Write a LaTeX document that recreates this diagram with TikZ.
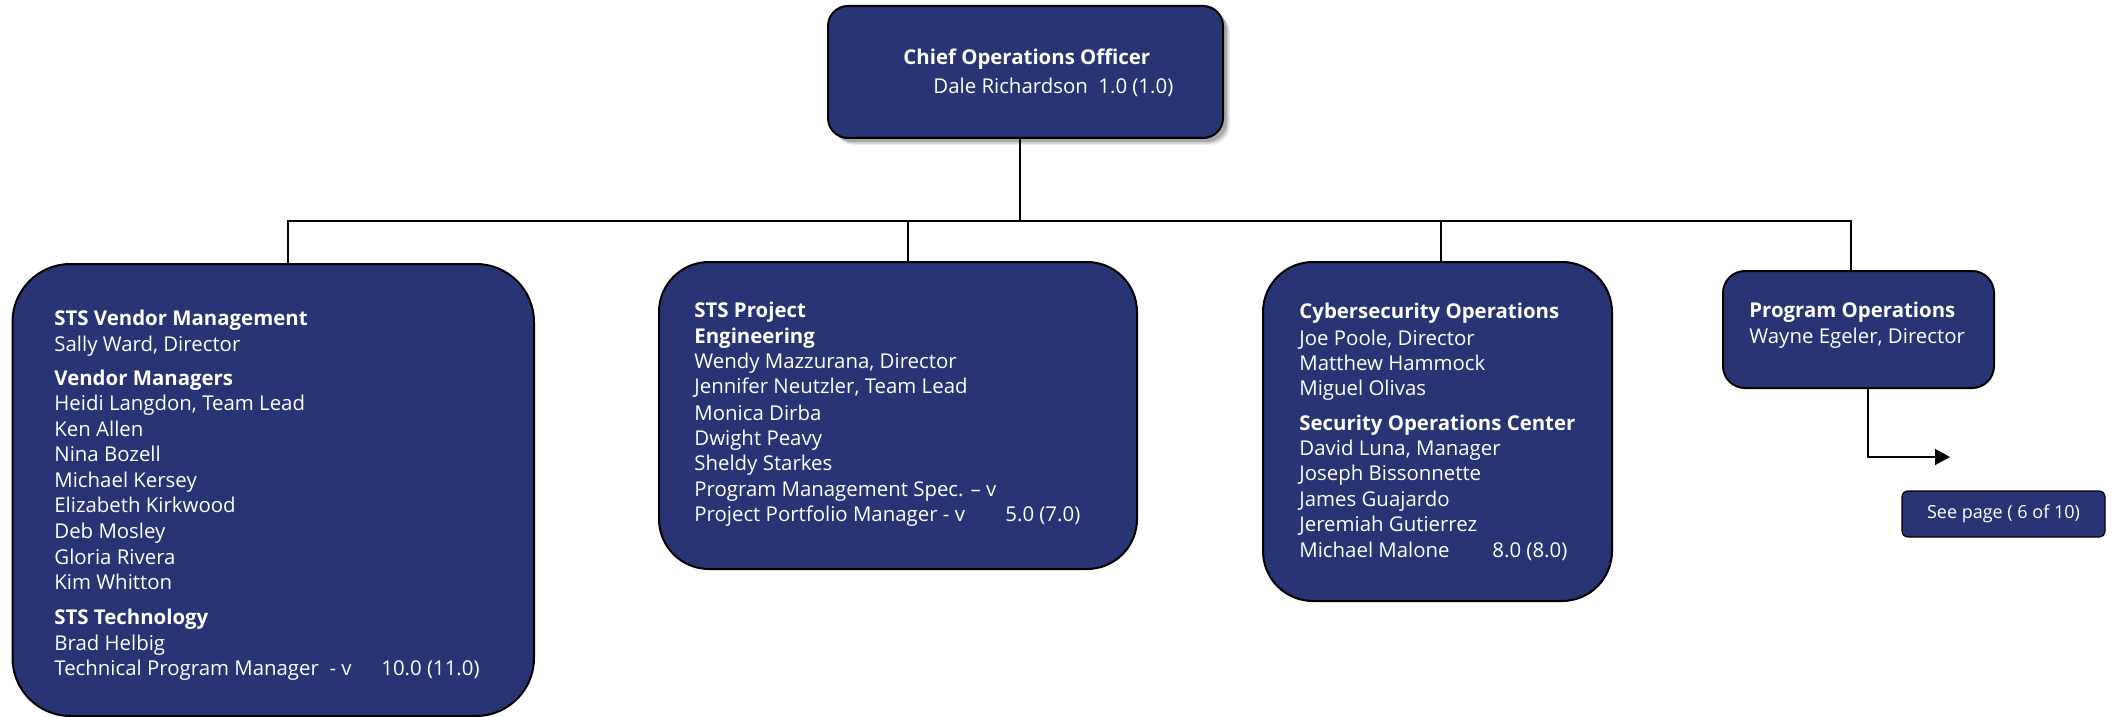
\documentclass[tikz,border=0pt]{standalone}
\usepackage{fontspec}
\setmainfont{Open Sans}
\usetikzlibrary{shadows,arrows.meta}
\definecolor{navy}{RGB}{40,52,116}
\tikzset{
  box/.style={draw=black, line width=1pt, fill=navy, inner sep=0pt},
  txt/.style={anchor=base west, inner sep=0pt, text=white, font=\fontsize{10.2}{12}\selectfont},
  btxt/.style={txt, font=\fontsize{10.2}{12}\selectfont\bfseries},
  conn/.style={draw=black, line width=0.75pt},
  softshadow/.style={
    drop shadow={shadow xshift=3.5pt, shadow yshift=-3.5pt, fill=black, opacity=0.08},
    drop shadow={shadow xshift=2.8pt, shadow yshift=-2.8pt, fill=black, opacity=0.12},
    drop shadow={shadow xshift=2pt, shadow yshift=-2pt, fill=black, opacity=0.18}},
}
\begin{document}
\begin{tikzpicture}[x=0.5pt,y=-0.5pt]
\useasboundingbox (0,0) rectangle (2121,717);
% boxes
\node[box, rounded corners=10pt, minimum width=197.5pt, minimum height=66pt, softshadow] (coo) at (1025.5,72) {};
\node[box, rounded corners=29pt, minimum width=260.75pt, minimum height=226pt] (vm) at (273.25,490) {};
\node[box, rounded corners=25pt, minimum width=239pt, minimum height=153.5pt] (pe) at (898,415.5) {};
\node[box, rounded corners=25pt, minimum width=174.5pt, minimum height=169.5pt] (cy) at (1437.5,431.5) {};
\node[box, rounded corners=11pt, minimum width=135.5pt, minimum height=58.5pt] (po) at (1858.5,329.5) {};
\node[box, rounded corners=3pt, line width=0.6pt, minimum width=101.5pt, minimum height=23pt,
      text=white, font=\fontsize{9}{10}\selectfont] (sp) at (2003.5,514) {See page ( 6 of 10)};
% connectors
\coordinate (jc) at (1020,221);
\coordinate (j1) at (288,221);
\coordinate (j2) at (908,221);
\coordinate (j3) at (1441,221);
\coordinate (j4) at (1851,221);
\coordinate (a1) at (1868,457);
\coordinate (a2) at (1950,457);
\draw[conn] (coo.south -| jc) -- (jc);
\draw[draw=black, line width=1.2pt] ([xshift=-0.6pt]j1) -- ([xshift=0.6pt]j4);
\draw[conn] (j1) -- (j1 |- vm.north);
\draw[conn] (j2) -- (j2 |- pe.north);
\draw[conn] (j3) -- (j3 |- cy.north);
\draw[conn] (j4) -- (j4 |- po.north);
\draw[conn, -{Triangle[length=7.5pt,width=8pt]}] (a1 |- po.south) -- (a1) -- (a2);
% texts: chief
\node[btxt] (coo1) at (903,65) {Chief Operations Officer};
\node[txt] (coo2) at (933,94) {Dale Richardson};
\node[txt] (coo3) at (1098,94) {1.0 (1.0)};
% vendor management
\foreach \y/\t [count=\i] in {
  325.7/\textbf{STS Vendor Management},
  351.7/{Sally Ward, Director},
  385.7/\textbf{Vendor Managers},
  410.7/{Heidi Langdon, Team Lead},
  436.7/Ken Allen,
  461.7/Nina Bozell,
  487.3/Michael Kersey,
  512.7/Elizabeth Kirkwood,
  538.3/Deb Mosley,
  564.3/Gloria Rivera,
  589.3/Kim Whitton,
  624/\textbf{STS Technology},
  650/Brad Helbig,
  675/{Technical Program Manager\ \ - v}}
  \node[txt] (vm\i) at (54,\y) {\t};
\node[txt] (vmn) at (381,675) {10.0 (11.0)};
% project engineering
\foreach \y/\t [count=\i] in {
  317.7/\textbf{STS Project},
  343/\textbf{Engineering},
  368/{Wendy Mazzurana, Director},
  393/{Jennifer Neutzler, Team Lead},
  420/Monica Dirba,
  445.7/Dwight Peavy,
  470.7/Sheldy Starkes,
  496.7/Program Management Spec. – v,
  521.7/Project Portfolio Manager - v}
  \node[txt] (pe\i) at (694,\y) {\t};
\node[txt] (pen) at (1005,521.7) {5.0 (7.0)};
% cybersecurity
\foreach \y/\t [count=\i] in {
  318.3/\textbf{Cybersecurity Operations},
  345/{Joe Poole, Director},
  370/Matthew Hammock,
  395/Miguel Olivas,
  430/\textbf{Security Operations Center},
  455/{David Luna, Manager},
  480.7/Joseph Bissonnette,
  506.7/James Guajardo,
  531.7/Jeremiah Gutierrez,
  557.7/Michael Malone}
  \node[txt] (cy\i) at (1299,\y) {\t};
\node[txt] (cyn) at (1492,557.7) {8.0 (8.0)};
% program operations
\node[btxt] (po1) at (1749,317) {Program Operations};
\node[txt] (po2) at (1749,343) {Wayne Egeler, Director};
\end{tikzpicture}
\end{document}
